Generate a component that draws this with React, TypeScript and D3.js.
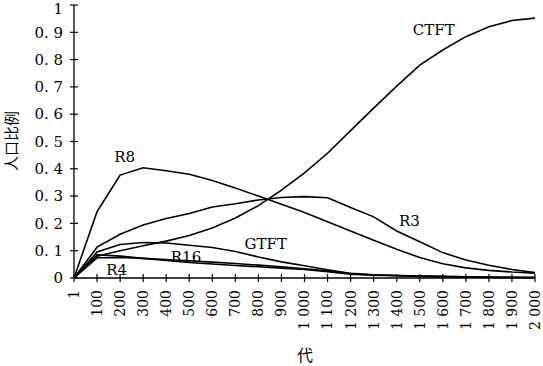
import React from 'react'
import * as d3 from 'd3'

const generations = ['1', '100', '200', '300', '400', '500', '600', '700', '800', '900', '1 000',
  '1 100', '1 200', '1 300', '1 400', '1 500', '1 600', '1 700', '1 800', '1 900', '2 000']

const ctft = [0, 0.08, 0.1, 0.118, 0.135, 0.156, 0.183, 0.22, 0.265, 0.322, 0.385, 0.457, 0.54, 0.622,
  0.703, 0.78, 0.835, 0.884, 0.92, 0.943, 0.952]
const r8 = [0, 0.243, 0.377, 0.404, 0.393, 0.38, 0.357, 0.33, 0.3, 0.27, 0.24, 0.206, 0.172, 0.138,
  0.105, 0.075, 0.052, 0.037, 0.028, 0.022, 0.018]
const r3 = [0, 0.113, 0.16, 0.194, 0.218, 0.236, 0.26, 0.272, 0.286, 0.295, 0.298, 0.294, 0.258, 0.224,
  0.172, 0.133, 0.093, 0.066, 0.047, 0.031, 0.02]
const gtft = [0, 0.095, 0.123, 0.13, 0.128, 0.12, 0.112, 0.097, 0.077, 0.059, 0.045, 0.03, 0.016, 0.011,
  0.009, 0.007, 0.005, 0.004, 0.003, 0.002, 0.002]
const r16 = [0, 0.074, 0.075, 0.072, 0.068, 0.063, 0.058, 0.053, 0.047, 0.041, 0.034, 0.026, 0.017, 0.012,
  0.009, 0.007, 0.005, 0.004, 0.003, 0.003, 0.002]
const r4 = [0, 0.085, 0.08, 0.072, 0.064, 0.057, 0.051, 0.046, 0.041, 0.036, 0.031, 0.023, 0.014, 0.01,
  0.008, 0.006, 0.005, 0.004, 0.003, 0.002, 0.002]

const series = [
  { name: 'CTFT', values: ctft },
  { name: 'R8', values: r8 },
  { name: 'R3', values: r3 },
  { name: 'GTFT', values: gtft },
  { name: 'R16', values: r16 },
  { name: 'R4', values: r4 },
]

// label anchors as [category index, value]
const labels = [
  { text: 'CTFT', at: [14.7, 0.89] },
  { text: 'R8', at: [1.75, 0.425] },
  { text: 'R3', at: [14.1, 0.19] },
  { text: 'GTFT', at: [7.4, 0.105] },
  { text: 'R16', at: [4.2, 0.06] },
  { text: 'R4', at: [1.4, 0.012] },
]

const yTicks = [0, 0.1, 0.2, 0.3, 0.4, 0.5, 0.6, 0.7, 0.8, 0.9, 1]

const serifFont = 'DejaVu Serif'
const cjkFont = 'Noto Sans CJK SC'

export default function App() {
  const width = 543
  const height = 366
  const x = d3.scalePoint().domain(generations).range([74, 535])
  const y = d3.scaleLinear().domain([0, 1]).range([278, 5])
  const step = x.step()

  const line = d3.line<number>()
    .x((d, i) => x(generations[i]) as number)
    .y(d => y(d))

  const fmt = (v: number) => (v === 0 || v === 1 ? String(v) : v.toFixed(1).replace('.', '. '))

  return (
    <div style={{ position: 'fixed', left: 0, top: 0 }}>
      <svg width={width} height={height} style={{ display: 'block', background: '#fff' }}>
        {series.map(s => (
          <path key={s.name} d={line(s.values) || ''} fill="none" stroke="#000" strokeWidth={1.6} />
        ))}

        {/* y axis */}
        <line x1={74} x2={74} y1={y(1)} y2={y(0)} stroke="#000" strokeWidth={1.3} />
        {yTicks.map(t => (
          <g key={t}>
            <line x1={70} x2={78} y1={y(t)} y2={y(t)} stroke="#000" strokeWidth={1.2} />
            <text x={63} y={y(t) + (t === 1 ? 4 : 0)} dy="0.35em" textAnchor="end" fontFamily={serifFont} fontSize={15}>{fmt(t)}</text>
          </g>
        ))}

        {/* x axis */}
        <line x1={74} x2={535} y1={y(0)} y2={y(0)} stroke="#000" strokeWidth={1.3} />
        {generations.map(g => {
          const gx = x(g) as number
          return (
            <g key={g}>
              <line x1={gx} x2={gx} y1={y(0) - 4} y2={y(0) + 4} stroke="#000" strokeWidth={1.2} />
              <text transform={`translate(${gx},290) rotate(-90)`} dy="0.35em" textAnchor="end"
                fontFamily={serifFont} fontSize={14}>{g}</text>
            </g>
          )
        })}

        {labels.map(l => (
          <text key={l.text} x={74 + l.at[0] * step} y={y(l.at[1])} fontFamily={serifFont} fontSize={15}>{l.text}</text>
        ))}

        <text transform="translate(17,141) rotate(-90)" textAnchor="middle" fontFamily={cjkFont} fontSize={15}>人口比例</text>
        <text x={305} y={361} textAnchor="middle" fontFamily={cjkFont} fontSize={16}>代</text>
      </svg>
    </div>
  )
}
